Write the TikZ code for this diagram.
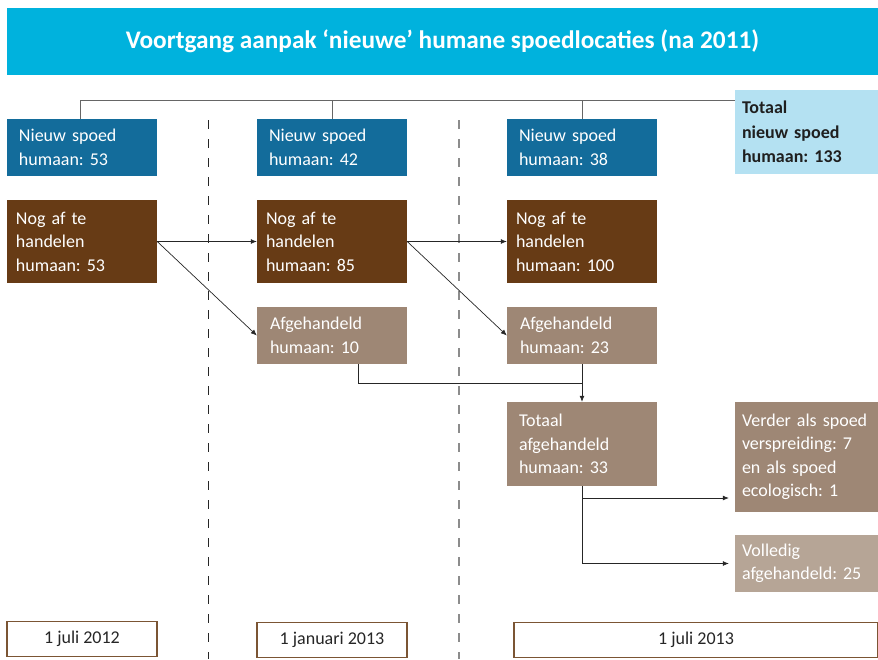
\documentclass[tikz,border=0pt]{standalone}
\usepackage{fontspec}
\setmainfont{Carlito}
\usetikzlibrary{arrows.meta}
\frenchspacing
\definecolor{titlebg}{HTML}{00B2DD}
\definecolor{nblue}{HTML}{136C9B}
\definecolor{lblue}{HTML}{B4E1F2}
\definecolor{brn}{HTML}{673B15}
\definecolor{tan}{HTML}{9E8775}
\definecolor{ltan}{HTML}{B6A596}
\definecolor{dbord}{HTML}{7B5534}
\tikzset{
  bx/.style={rectangle, inner ysep=0pt, inner xsep=12pt, minimum width=150pt, text width=126pt,
    align=left, text=white, font=\frenchspacing\fontsize{18}{23.5}\selectfont},
  nbox/.style={bx, fill=nblue, minimum height=57pt},
  gbox/.style={bx, fill=brn, minimum height=83pt, inner xsep=9pt, text width=132pt},
  abox/.style={bx, fill=tan, minimum height=57pt, inner xsep=13pt, text width=124pt},
  rbox/.style={bx, minimum width=143pt, inner xsep=7pt, text width=129pt},
  dbox/.style={rectangle, draw=dbord, line width=1.5pt, fill=white, minimum height=35pt,
    inner sep=0pt, text=black!85, font=\fontsize{18}{22}\selectfont},
  arr/.style={-{Latex[length=6pt,width=5pt]}, line width=0.7pt, black!85},
  ln/.style={line width=0.7pt, black!85},
}
\begin{document}
\begin{tikzpicture}[x=1pt,y=-1pt]
\useasboundingbox (0,0) rectangle (878,659);
% dashed separators
\draw[black!85, line width=1pt, dash pattern=on 9pt off 10pt] (208,120) -- (208,659);
\draw[black!45, line width=1.2pt, dash pattern=on 9pt off 10pt] (459,120) -- (459,659);
% title
\node[rectangle, fill=titlebg, minimum width=871pt, minimum height=67pt, inner sep=0pt,
  text=white, font=\bfseries\fontsize{25.3}{30}\selectfont] (title) at (442.5,41.5)
  {Voortgang aanpak ‘nieuwe’ humane spoedlocaties (na 2011)};
% nieuw spoed
\node[nbox] (n1) at (82,147.5) {Nieuw spoed\\humaan: 53};
\node[nbox] (n2) at (332,147.5) {Nieuw spoed\\humaan: 42};
\node[nbox] (n3) at (582,147.5) {Nieuw spoed\\humaan: 38};
\node[rbox, fill=lblue, minimum height=84pt, text=black!88, font=\frenchspacing\bfseries\fontsize{18}{24.5}\selectfont] (tot) at (806.5,132) {Totaal\\nieuw spoed\\humaan: 133};
% nog af te handelen
\node[gbox] (g1) at (82,241.5) {Nog af te\\handelen\\humaan: 53};
\node[gbox] (g2) at (332,241.5) {Nog af te\\handelen\\humaan: 85};
\node[gbox] (g3) at (582,241.5) {Nog af te\\handelen\\humaan: 100};
% afgehandeld
\node[abox] (a2) at (332,335.5) {Afgehandeld\\humaan: 10};
\node[abox] (a3) at (582,335.5) {Afgehandeld\\humaan: 23};
\node[bx, fill=tan, minimum height=84pt] (ta) at (582,444) {Totaal\\afgehandeld\\humaan: 33};
\node[rbox, fill=tan, minimum height=110pt] (vd) at (806.5,457) {Verder als spoed\\verspreiding: 7\\en als spoed\\ecologisch: 1};
\node[rbox, fill=ltan, minimum height=57pt] (vl) at (806.5,563.5) {Volledig\\afgehandeld: 25};
% dates
\node[dbox, minimum width=150pt] (d1) at (82,639) {1 juli 2012};
\node[dbox, minimum width=150pt] (d2) at (332,640) {1 januari 2013};
\node[dbox, minimum width=364pt] (d3) at (696,640) {1 juli 2013};
% top connector
\coordinate (t1) at (80,100);
\draw[black!60, line width=1pt] (n1.north -| t1) -- (t1) -- (tot.west |- t1);
\draw[black!60, line width=1pt] (n2.north) -- (n2.north |- t1);
\draw[black!60, line width=1pt] (n3.north) -- (n3.north |- t1);
% flow arrows
\draw[arr] (g1.east) -- (g2.west);
\draw[arr] (g1.east) -- (a2.west);
\draw[arr] (g2.east) -- (g3.west);
\draw[arr] (g2.east) -- (a3.west);
\draw[ln] ([xshift=26]a2.south) |- ([yshift=-19]a3.south);
\draw[arr] (a3.south) -- (ta.north);
\draw[arr, shorten >=6pt] (ta.south) |- ([yshift=-41]vd.west);
\draw[arr, shorten >=6pt] (ta.south) |- (vl.west);
\end{tikzpicture}
\end{document}
